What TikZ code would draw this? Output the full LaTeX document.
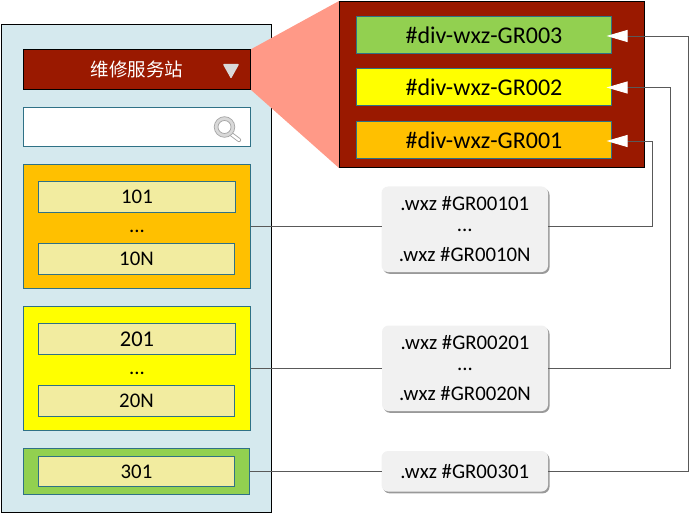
\documentclass[tikz,border=0pt]{standalone}
\usepackage{fontspec}
\setmainfont{Carlito}
\newfontfamily\cjkfont{Noto Sans CJK SC}
\usetikzlibrary{shadows,arrows.meta}
\definecolor{panelblue}{HTML}{D5E9EE}
\definecolor{teal}{HTML}{2F7186}
\definecolor{maroon}{HTML}{9A1900}
\definecolor{salmon}{HTML}{FF9987}
\definecolor{orangeg}{HTML}{FFC000}
\definecolor{greeng}{HTML}{92D050}
\definecolor{yellowg}{HTML}{FFFF00}
\definecolor{khaki}{HTML}{F2ECA0}
\definecolor{cardgray}{HTML}{F1F1F1}
\definecolor{linegray}{HTML}{595959}
\definecolor{icongray}{HTML}{A6A6A6}
\definecolor{trigray}{HTML}{D9D9D9}
\newcommand{\fs}{\fontsize{20.8pt}{25.5pt}\selectfont}
\newcommand{\bx}[7]{%
  \pgfmathsetmacro{\bw}{#5-#3}\pgfmathsetmacro{\bh}{#6-#4}%
  \pgfmathsetmacro{\cxx}{(#3+#5)/2}\pgfmathsetmacro{\cyy}{(#4+#6)/2}%
  \node[#2,minimum width=\bw pt,minimum height=\bh pt] (#1) at (\cxx,\cyy) {#7};}
\tikzset{
  base/.style={inner sep=0pt,outer sep=0pt,font=\fs,text=black},
  tealbox/.style={base,draw=teal,line width=1pt},
  inner/.style={tealbox,fill=khaki},
  divbox/.style={tealbox,font=\fontsize{24pt}{28pt}\selectfont},
  card/.style={base,fill=cardgray,rounded corners=6.5pt,align=center,
    drop shadow={shadow xshift=1.5pt,shadow yshift=-1.8pt,fill=black,opacity=.4}},
  link/.style={draw=linegray,line width=.9pt},
  tiplink/.style={link,-{Triangle[length=21pt,width=12pt,color=white]}},
  dots/.style={base,anchor=base}
}
\begin{document}
\begin{tikzpicture}[x=1pt,y=-1pt]
\useasboundingbox (0,0) rectangle (690,513);
\bx{panel}{base,draw=black,line width=1pt,fill=panelblue}{1.5}{24.5}{271.5}{512}{}
\fill[salmon] (250.5,49.5) -- (339,1) -- (339,168) -- (250.5,89.5) -- cycle;
\bx{header}{base,draw=black,line width=1pt,fill=maroon,text=white}{23.5}{49.5}{250.5}{89.5}{}
\node[base,text=white,font=\cjkfont\fontsize{18.5pt}{22pt}\selectfont] (title) at (137,69.5) {维修服务站};
\fill[trigray,draw=trigray,line width=1.2pt,line join=round] (223.8,64.6) -- (238.2,64.6) -- (231,77.5) -- cycle;
\bx{search}{tealbox,fill=white}{23.5}{107.5}{250.5}{146.5}{}
% magnifier
\draw[icongray,line width=4.2pt,line cap=round] (231,134) -- (239,140);
\draw[white,line width=2.4pt,line cap=round] (231,134) -- (239,140);
\draw[icongray,line width=.7pt,fill=trigray,even odd rule] (224.5,127) circle (10.3) (224.5,127) circle (6.5);
\bx{dark}{base,draw=black,line width=1pt,fill=maroon}{339.5}{1.5}{644.5}{168}{}
\bx{gthree}{divbox,fill=greeng}{356.5}{16.5}{611.5}{53.5}{\#div-wxz-GR003}
\bx{gtwo}{divbox,fill=yellowg}{356.5}{68.5}{611.5}{105.5}{\#div-wxz-GR002}
\bx{gone}{divbox,fill=orangeg}{356.5}{121.5}{611.5}{158.5}{\#div-wxz-GR001}
\bx{grpa}{tealbox,fill=orangeg}{23.5}{164.5}{250.5}{288.5}{}
\bx{ia}{inner}{38.5}{181.5}{235.5}{212.5}{101}
\node[dots] (da) at (137,232) {...};
\bx{ib}{inner}{38.5}{243.5}{234.5}{274.5}{10N}
\bx{grpb}{tealbox,fill=yellowg}{23.5}{306.5}{250.5}{430.5}{}
\bx{ic}{inner,font=\fontsize{22.5pt}{26pt}\selectfont}{38.5}{323.5}{235.5}{354.5}{201}
\node[dots] (db) at (137,374) {...};
\bx{id}{inner}{38.5}{385.5}{234.5}{416.5}{20N}
\bx{grpc}{tealbox,fill=greeng}{23.5}{448.5}{249.5}{494.5}{}
\bx{ie}{inner}{38.5}{456.5}{234.5}{486.5}{301}
\bx{cardA}{card}{381.5}{186.5}{548}{272}{.wxz \#GR00101\\[-4.5pt]...\\[4.5pt].wxz \#GR0010N}
\bx{cardB}{card}{382}{325.5}{548}{411}{.wxz \#GR00201\\[-4.5pt]...\\[4.5pt].wxz \#GR0020N}
\bx{cardC}{card}{381.5}{451}{548}{491.5}{.wxz \#GR00301}
\coordinate (ra) at (652.5,226);
\coordinate (rb) at (670,368);
\coordinate (rc) at (688.5,471);
\draw[link] (grpa.east |- ra) -- (cardA.west |- ra);
\draw[link] (grpb.east |- rb) -- (cardB.west |- rb);
\draw[link] (grpc.east |- rc) -- (cardC.west |- rc);
\draw[tiplink] (cardA.east |- ra) -- (ra) -- ([yshift=-1pt]ra |- gone.east) -- ([xshift=-5pt,yshift=-1pt]gone.east);
\draw[tiplink] (cardB.east |- rb) -- (rb) -- ([yshift=-.5pt]rb |- gtwo.east) -- ([xshift=-5pt,yshift=-.5pt]gtwo.east);
\draw[tiplink] (cardC.east |- rc) -- (rc) -- ([yshift=-1pt]rc |- gthree.east) -- ([xshift=-5pt,yshift=-1pt]gthree.east);
\end{tikzpicture}
\end{document}
